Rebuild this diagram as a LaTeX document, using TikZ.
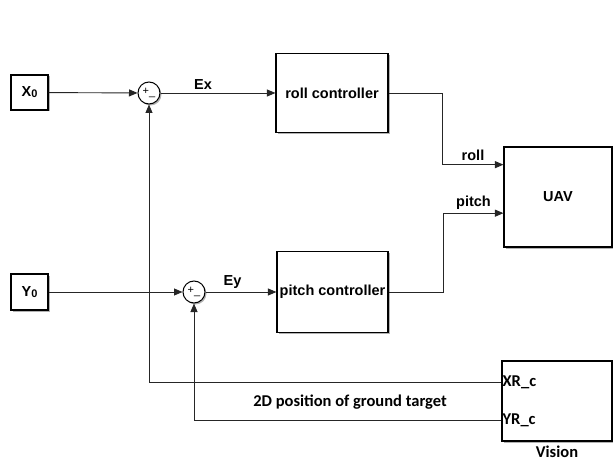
\documentclass[tikz,border=0pt]{standalone}
\usepackage{fontspec}
\setmainfont{Liberation Sans}
\newfontfamily\calfont{Carlito}
\usepackage{tikz}
\usetikzlibrary{positioning,calc,arrows.meta,shadows}

\begin{document}
\begin{tikzpicture}[x=1pt, y=1pt, >={Triangle[length=8.5pt,width=7pt]},
  boxshadow/.style={drop shadow={shadow xshift=1.5pt, shadow yshift=-1.5pt, fill=black!30, opacity=1}},
  block/.style={draw, line width=1.1pt, fill=white, boxshadow, align=center,
    font=\fontsize{14.5}{16}\selectfont\bfseries},
  sumnode/.style={circle, draw, line width=1pt, fill=white, boxshadow, minimum size=22pt, inner sep=0pt},
  sig/.style={draw=black!85, line width=0.9pt, ->},
  lbl/.style={font=\fontsize{14.5}{16}\selectfont\bfseries},
  cal/.style={font=\fontsize{16.5}{18}\calfont\bfseries}]
  \useasboundingbox (0,0) rectangle (613,-465);

  \node[block, minimum width=37pt, minimum height=35pt] (X0) at (29.5,-92.5) {X\raisebox{-1pt}{\fontsize{11}{12}\selectfont 0}};
  \node[block, minimum width=37pt, minimum height=36pt] (Y0) at (29.5,-292) {Y\raisebox{-1pt}{\fontsize{11}{12}\selectfont 0}};
  \node[sumnode] (sum1) at (149,-93) {\fontsize{11}{11}\selectfont +\raisebox{-1.5pt}{\_}};
  \node[sumnode] (sum2) at (194,-292) {\fontsize{11}{11}\selectfont +\raisebox{-1.5pt}{\_}};
  \node[block, minimum width=112pt, minimum height=79pt, inner sep=1pt] (roll) at (332,-93) {roll controller};
  \node[block, minimum width=111pt, minimum height=81pt, inner sep=1pt] (pitch) at (332.5,-292) {pitch controller};
  \node[block, minimum width=108pt, minimum height=100pt] (UAV) at (558,-197) {UAV};
  \node[block, minimum width=110pt, minimum height=80pt] (vision) at (557,-401) {};
  \node[cal, below=1pt of vision] (visionlbl) {Vision};
  \node[cal, anchor=west, inner sep=1pt] (xrc) at (vision.west |- 0,-382) {XR\_c};
  \node[cal, anchor=west, inner sep=1pt] (yrc) at (vision.west |- 0,-420) {YR\_c};
  \coordinate (rollin) at ($(UAV.north west)!0.18!(UAV.south west)$);
  \coordinate (pitchin) at ($(UAV.north west)!0.66!(UAV.south west)$);

  \draw[sig] (X0) -- (sum1);
  \draw[sig] (Y0) -- (sum2);
  \draw[sig] (sum1) -- node[lbl, pos=0.37, above] {Ex} (roll);
  \draw[sig] (sum2) -- node[lbl, pos=0.38, above] {Ey} (pitch);
  \draw[sig] (roll.east) -- ++(54,0) |- node[lbl, pos=0.75, above] {roll} (rollin);
  \draw[sig] (pitch.east) -- ++(55,0) |- node[lbl, pos=0.75, above] {pitch} (pitchin);
  \draw[sig] (xrc.west) -| (sum1.south);
  \draw[sig] (yrc.west) -| (sum2.south);
  \node[cal] (postext) at (350,-402) {2D position of ground target};
\end{tikzpicture}
\end{document}
